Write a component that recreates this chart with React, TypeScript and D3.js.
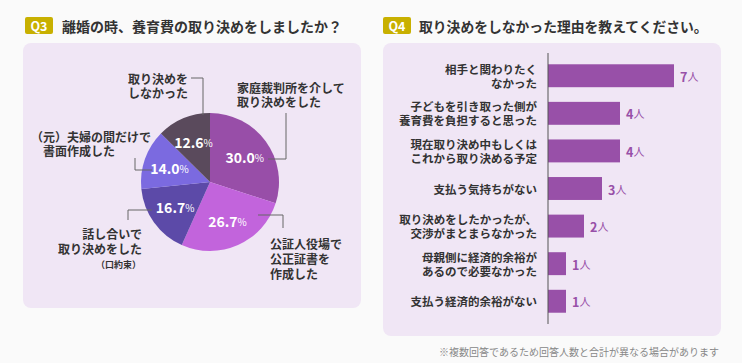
import React from 'react'
import * as d3 from 'd3'

// Q3 pie
const pieLabels = ['家庭裁判所を介して取り決めをした', '公証人役場で公正証書を作成した', '話し合いで取り決めをした（口約束）', '（元）夫婦の間だけで書面作成した', '取り決めをしなかった']
const pieValues = [30.0, 26.7, 16.7, 14.0, 12.6]
const pieColors = ['#984ea8', '#c264dc', '#5c4aa8', '#7b6ae0', '#5a4a5c']

// Q4 bars
const reasonLines = [
    ['相手と関わりたく', 'なかった'],
    ['子どもを引き取った側が', '養育費を負担すると思った'],
    ['現在取り決め中もしくは', 'これから取り決める予定'],
    ['支払う気持ちがない'],
    ['取り決めをしたかったが、', '交渉がまとまらなかった'],
    ['母親側に経済的余裕が', 'あるので必要なかった'],
    ['支払う経済的余裕がない'],
]
const reasonValues = [7, 4, 4, 3, 2, 1, 1]

const FONT = '"Noto Sans CJK JP", "Noto Sans", sans-serif'
const W = 742
const H = 363

const Badge = ({ x, label }: { x: number, label: string }) => (
    <g>
        <rect x={x} y={17} width={28} height={17} rx={2} fill="#c8b000" />
        <text x={x + 14} y={25.5} textAnchor="middle" dominantBaseline="central" fill="#fff" fontSize={12.5} fontWeight={700}>{label}</text>
    </g>
)

// several lines in one text element
const Lines = ({ x, y, lines, anchor = 'start', gap = 14, xs }: { x: number, y: number, lines: string[], anchor?: string, gap?: number, xs?: number[] }) => (
    <text y={y} textAnchor={anchor} dominantBaseline="central" fontSize={12} fontWeight={700} fill="#333">
        {lines.map((t, i) => (
            <tspan key={i} x={xs ? xs[i] : x} dy={i === 0 ? 0 : gap}>{t}</tspan>
        ))}
    </text>
)

export default function App() {
    const cx = 210, cy = 182, r = 69
    const pie = d3.pie<number>().sort(null).value(d => d)
    const arcs = pie(pieValues)
    const arc = d3.arc<d3.PieArcDatum<number>>().innerRadius(0).outerRadius(r)
    const labelArc = d3.arc<d3.PieArcDatum<number>>().innerRadius(43).outerRadius(43)

    const x = d3.scaleLinear().domain([0, 7]).range([548, 674])
    const y = d3.scaleBand<number>()
        .domain(d3.range(reasonValues.length))
        .range([53, 324])
        .paddingInner(0.39)
        .paddingOuter(0.3)

    const lead = { fill: 'none', stroke: '#666', strokeWidth: 1 }

    return (
        <svg width={W} height={H} style={{ position: 'absolute', left: 0, top: 0, fontFamily: FONT }}>
            <rect width={W} height={H} fill="#fafafa" />

            {/* Q3 */}
            <Badge x={25} label="Q3" />
            <text x={62} y={25.5} dominantBaseline="central" fontSize={14} fontWeight={700} fill="#333">離婚の時、養育費の取り決めをしましたか？</text>
            <rect x={23} y={43} width={338} height={265} rx={8} fill="#f0e6f5" />

            <g transform={`translate(${cx},${cy})`}>
                {arcs.map((a, i) => (
                    <path key={i} d={arc(a) || ''} fill={pieColors[i]} />
                ))}
                {arcs.map((a, i) => {
                    const [px, py] = labelArc.centroid(a)
                    return (
                        <text key={i} x={px} y={py} textAnchor="middle" dominantBaseline="central" fill="#fff" fontWeight={700}>
                            <tspan fontSize={14}>{pieValues[i].toFixed(1)}</tspan>
                            <tspan fontSize={10} fontWeight={400}>%</tspan>
                        </text>
                    )
                })}
            </g>

            {/* pie leaders + labels */}
            <polyline points="191,78 203,78 203,115" {...lead} />
            <Lines x={158} y={78} anchor="middle" lines={['取り決めを', 'しなかった']} />

            <polyline points="286,113 286,159 268,159" {...lead} />
            <Lines x={237} y={87} lines={['家庭裁判所を介して', '取り決めをした']} />

            <polyline points="135,158 135,170 152,170" {...lead} />
            <Lines x={31} y={136} xs={[31, 43]} lines={['（元）夫婦の間だけで', '書面作成した']} />

            <polyline points="152,210 128,210 128,220" {...lead} />
            <text y={233} textAnchor="end" dominantBaseline="central" fontWeight={700} fill="#333">
                <tspan x={142} fontSize={12}>話し合いで</tspan>
                <tspan x={142} dy={15} fontSize={12}>取り決めをした</tspan>
                <tspan x={141} dy={16} fontSize={9}>（口約束）</tspan>
            </text>

            <polyline points="258,215 283,215 283,228" {...lead} />
            <Lines x={270} y={243} gap={15} lines={['公証人役場で', '公正証書を', '作成した']} />

            {/* Q4 */}
            <Badge x={383} label="Q4" />
            <text x={419} y={25.5} dominantBaseline="central" fontSize={13.8} fontWeight={700} fill="#333">取り決めをしなかった理由を教えてください。</text>
            <rect x={383} y={43} width={338} height={293} rx={8} fill="#f0e6f5" />

            {reasonValues.map((v, i) => {
                const yc = (y(i) as number) + y.bandwidth() / 2
                const lines = reasonLines[i]
                return (
                    <g key={i}>
                        <rect x={x(0)} y={y(i)} width={x(v) - x(0)} height={y.bandwidth()} fill="#9850a8" />
                        <text x={x(v) + 6} y={yc} dominantBaseline="central" fill="#9850a8" fontWeight={700}>
                            <tspan fontSize={12.5}>{v}</tspan>
                            <tspan fontSize={11} fontWeight={400}>人</tspan>
                        </text>
                        <text y={yc - (lines.length - 1) * 7} textAnchor="end" dominantBaseline="central" fontSize={11.5} fontWeight={700} fill="#333">
                            {lines.map((t, j) => (
                                <tspan key={j} x={537} dy={j === 0 ? 0 : 14}>{t}</tspan>
                            ))}
                        </text>
                    </g>
                )
            })}
            <line x1={x(0)} x2={x(0)} y1={53} y2={324} stroke="#555" strokeWidth={1} />

            <text x={719} y={351} textAnchor="end" dominantBaseline="central" fontSize={10} fill="#888">※複数回答であるため回答人数と合計が異なる場合があります</text>
        </svg>
    )
}
